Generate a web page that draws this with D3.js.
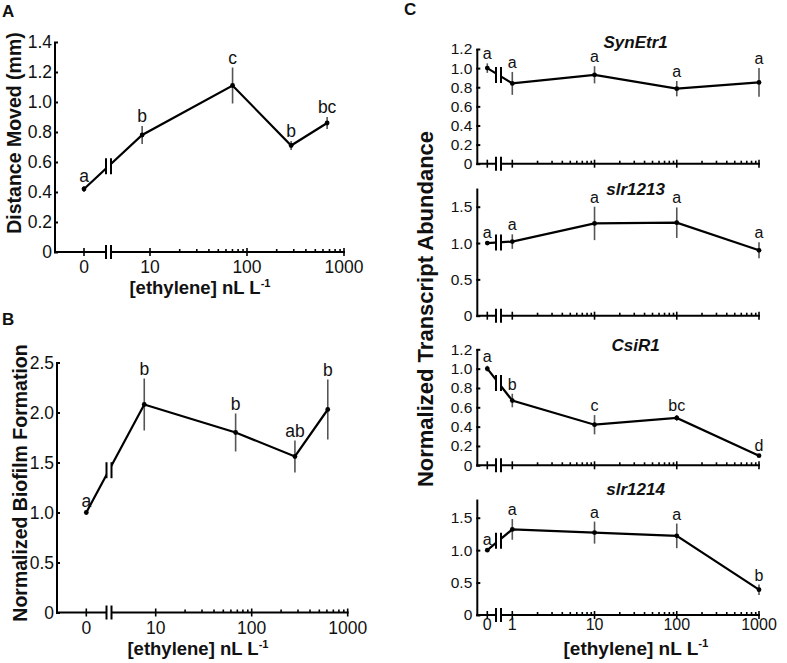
<!DOCTYPE html>
<html><head><meta charset="utf-8">
<script src="https://cdn.jsdelivr.net/npm/d3@7"></script>
<style>body{margin:0;background:#fff}svg{display:block}text{font-family:"Liberation Sans",Arial,sans-serif;fill:#111}</style>
</head><body>
<svg id="c" width="787" height="663"></svg>
<script>
// ---------- DATA ----------
const aConc = [0, 8.3, 71, 285, 670];
const aMean = [0.42, 0.78, 1.11, 0.71, 0.86];
const aErr = [0.02, 0.06, 0.12, 0.03, 0.04];
const aLetters = ["a", "b", "c", "b", "bc"];
const aYTicks = [0, 0.2, 0.4, 0.6, 0.8, 1.0, 1.2, 1.4];

const bConc = [0, 7.6, 68, 282, 620];
const bMean = [1.0, 2.08, 1.80, 1.56, 2.03];
const bErr = [0.02, 0.26, 0.19, 0.16, 0.30];
const bLetters = ["a", "b", "b", "ab", "b"];
const bYTicks = [0, 0.5, 1.0, 1.5, 2.0, 2.5];

const abXTicks = [0, 10, 100, 1000];

const cConc = [0, 1, 10, 100, 1000];
const cXTicks = [0, 1, 10, 100, 1000];
const genes = ["SynEtr1", "slr1213", "CsiR1", "slr1214"];
const synEtr1Mean = [1.0, 0.84, 0.93, 0.785, 0.85];
const synEtr1Err = [0.05, 0.12, 0.09, 0.08, 0.15];
const synEtr1Letters = ["a", "a", "a", "a", "a"];
const slr1213Mean = [1.0, 1.02, 1.27, 1.28, 0.90];
const slr1213Err = [0.02, 0.10, 0.23, 0.21, 0.11];
const slr1213Letters = ["a", "a", "a", "a", "a"];
const csiR1Mean = [1.0, 0.67, 0.42, 0.49, 0.10];
const csiR1Err = [0.03, 0.07, 0.10, 0.03, 0.01];
const csiR1Letters = ["a", "b", "c", "bc", "d"];
const slr1214Mean = [1.0, 1.32, 1.27, 1.22, 0.39];
const slr1214Err = [0.02, 0.16, 0.17, 0.19, 0.08];
const slr1214Letters = ["a", "a", "a", "a", "b"];
const cYTicksFine = [0, 0.2, 0.4, 0.6, 0.8, 1.0, 1.2];
const cYTicksCoarse = [0, 0.5, 1.0, 1.5];

// ---------- DRAWING ----------
const svg = d3.select("#c");
const FONT = '"Liberation Sans",Arial,sans-serif';
const fmtY = v => v === 0 ? "0" : d3.format(".1f")(v);

function breakMark(g, x, yc, half, gap) {
  g.append("rect").attr("x", x - gap / 2).attr("y", yc - half).attr("width", gap).attr("height", half * 2).attr("fill", "#fff");
  [x - gap / 2, x + gap / 2].forEach(xx =>
    g.append("line").attr("x1", xx).attr("x2", xx).attr("y1", yc - half).attr("y2", yc + half)
      .attr("stroke", "#000").attr("stroke-width", 2));
}

function drawPanel(o) {
  const g = svg.append("g");
  const xLog = d3.scaleLog().domain(o.logDomain).range(o.logRange);
  const X = v => v === 0 ? o.x0 : xLog(v);
  const y = d3.scaleLinear().domain([0, o.yTickMax]).range([o.y0, o.yTickMaxPx]);

  // y axis
  g.append("line").attr("x1", o.axisX).attr("x2", o.axisX).attr("y1", o.y0 + 1).attr("y2", y(o.yTop))
    .attr("stroke", "#000").attr("stroke-width", 2);
  const ya = d3.axisLeft(y).tickValues(o.yTicks).tickFormat(fmtY).tickSizeInner(-3).tickSizeOuter(0).tickPadding(o.yPad);
  const yg = g.append("g").attr("transform", `translate(${o.axisX},0)`).call(ya);
  yg.select(".domain").remove();
  yg.selectAll(".tick line").attr("stroke", "#000").attr("stroke-width", 2).attr("x1", -1);
  yg.selectAll(".tick text").attr("font-size", o.tickFont).attr("font-family", FONT).attr("fill", "#111");

  // x axis
  const xEnd = xLog(1000) + 1;
  g.append("line").attr("x1", o.axisX - 1).attr("x2", xEnd).attr("y1", o.y0).attr("y2", o.y0)
    .attr("stroke", "#000").attr("stroke-width", 2);
  // minor ticks
  const minors = [];
  for (let k = Math.floor(Math.log10(o.logDomain[0])); k < 3; k++)
    for (let m = 2; m <= 9; m++) { const v = m * Math.pow(10, k); if (xLog(v) > o.xBreak + 5 && v < 1000) minors.push(v); }
  const ma = d3.axisBottom(xLog).tickValues(minors).tickSize(-3).tickFormat("");
  const mg = g.append("g").attr("transform", `translate(0,${o.y0})`).call(ma);
  mg.select(".domain").remove();
  mg.selectAll(".tick line").attr("stroke", "#000").attr("stroke-width", 1.6);
  // major ticks
  o.xTicks.forEach(v => {
    g.append("line").attr("x1", X(v)).attr("x2", X(v)).attr("y1", o.y0 - 4).attr("y2", o.y0 + 4)
      .attr("stroke", "#000").attr("stroke-width", 1.6);
    if (o.showXLabels)
      g.append("text").attr("x", X(v)).attr("y", o.y0 + o.xLabelDy).attr("text-anchor", "middle")
        .attr("font-size", o.xTickFont).text(v);
  });
  breakMark(g, o.xBreak, o.y0, o.axisBreakHalf, o.breakGap);

  // data
  const pts = o.conc.map((c, i) => ({ x: X(c), y: y(o.mean[i]), e: o.err[i], m: o.mean[i], l: o.letters[i] }));
  pts.forEach(p => g.append("line").attr("x1", p.x).attr("x2", p.x).attr("y1", y(p.m - p.e)).attr("y2", y(p.m + p.e))
    .attr("stroke", "#555").attr("stroke-width", 1.6));
  g.append("path").datum(pts).attr("d", d3.line().x(d => d.x).y(d => d.y))
    .attr("fill", "none").attr("stroke", "#000").attr("stroke-width", 2.2).attr("stroke-linejoin", "miter");
  pts.forEach(p => g.append("circle").attr("cx", p.x).attr("cy", p.y).attr("r", 2.4).attr("fill", "#000"));
  const t = (o.xBreak - pts[0].x) / (pts[1].x - pts[0].x);
  const yb = pts[0].y + t * (pts[1].y - pts[0].y);
  breakMark(g, o.xBreak, yb, o.lineBreakHalf, o.breakGap);
  pts.forEach(p => g.append("text").attr("x", p.x).attr("y", y(p.m + p.e) - o.letterGap)
    .attr("text-anchor", "middle").attr("font-size", o.letterFont).text(p.l));

  if (o.title) g.append("text").attr("x", (xLog(1) + xLog(1000)) / 2).attr("y", o.titleY)
    .attr("text-anchor", "middle").attr("font-size", 17).attr("font-weight", "bold").attr("font-style", "italic").text(o.title);
}

function xTitle(x, yb, size) {
  const t = svg.append("text").attr("x", x).attr("y", yb).attr("text-anchor", "middle")
    .attr("font-size", size).attr("font-weight", "bold");
  t.append("tspan").text("[ethylene] nL L");
  t.append("tspan").attr("font-size", size * 0.6).attr("dy", -size * 0.4).text("-1");
}
function yTitle(x, yc, size, txt) {
  svg.append("text").attr("transform", `translate(${x},${yc}) rotate(-90)`).attr("text-anchor", "middle")
    .attr("font-size", size).attr("font-weight", "bold").text(txt);
}
function panelLetter(x, y, s) {
  svg.append("text").attr("x", x).attr("y", y).attr("font-size", 17).attr("font-weight", "bold").text(s);
}

// Panel A
drawPanel({ conc: aConc, mean: aMean, err: aErr, letters: aLetters, yTicks: aYTicks,
  axisX: 55, y0: 252, yTickMax: 1.4, yTickMaxPx: 42, yTop: 1.4,
  x0: 84, logDomain: [10, 1000], logRange: [150, 344], xBreak: 108.5, xTicks: abXTicks, showXLabels: true,
  xLabelDy: 20.5, tickFont: 17.5, xTickFont: 17.5, yPad: 3, letterFont: 17.5, letterGap: 4,
  axisBreakHalf: 7, lineBreakHalf: 8, breakGap: 5 });
xTitle(200, 294, 18.5);
yTitle(21, 133, 19.5, "Distance Moved (mm)");
panelLetter(2, 17, "A");

// Panel B
drawPanel({ conc: bConc, mean: bMean, err: bErr, letters: bLetters, yTicks: bYTicks,
  axisX: 57, y0: 612.5, yTickMax: 2.5, yTickMaxPx: 362.5, yTop: 2.5,
  x0: 86.3, logDomain: [10, 1000], logRange: [155.7, 347.7], xBreak: 109, xTicks: abXTicks, showXLabels: true,
  xLabelDy: 21, tickFont: 17.5, xTickFont: 17.5, yPad: 3, letterFont: 17.5, letterGap: 4,
  axisBreakHalf: 7, lineBreakHalf: 8, breakGap: 5 });
xTitle(198, 655, 18.5);
yTitle(26.5, 483, 19.5, "Normalized Biofilm Formation");
panelLetter(2, 325, "B");

// Panel C
const cCommon = { conc: cConc, axisX: 477.3, x0: 487.3, logDomain: [1, 1000], logRange: [512.3, 759],
  xBreak: 498.5, xTicks: cXTicks, xLabelDy: 14.5, tickFont: 15.5, xTickFont: 16, yPad: 5,
  letterFont: 16, letterGap: 4, axisBreakHalf: 7, lineBreakHalf: 8, breakGap: 5 };
drawPanel(Object.assign({}, cCommon, { mean: synEtr1Mean, err: synEtr1Err, letters: synEtr1Letters, yTicks: cYTicksFine,
  y0: 163.7, yTickMax: 1.2, yTickMaxPx: 49, yTop: 1.2, title: genes[0], titleY: 48, showXLabels: false }));
drawPanel(Object.assign({}, cCommon, { mean: slr1213Mean, err: slr1213Err, letters: slr1213Letters, yTicks: cYTicksCoarse,
  y0: 315.7, yTickMax: 1.5, yTickMaxPx: 206.7, yTop: 1.75, title: genes[1], titleY: 195, showXLabels: false }));
drawPanel(Object.assign({}, cCommon, { mean: csiR1Mean, err: csiR1Err, letters: csiR1Letters, yTicks: cYTicksFine,
  y0: 465.3, yTickMax: 1.2, yTickMaxPx: 349.3, yTop: 1.2, title: genes[2], titleY: 351, showXLabels: false }));
drawPanel(Object.assign({}, cCommon, { mean: slr1214Mean, err: slr1214Err, letters: slr1214Letters, yTicks: cYTicksCoarse,
  y0: 615, yTickMax: 1.5, yTickMaxPx: 517.7, yTop: 1.78, title: genes[3], titleY: 495, showXLabels: true }));
xTitle(636, 655, 19);
yTitle(433, 309, 22, "Normalized Transcript Abundance");
panelLetter(404, 15, "C");
</script>
</body></html>
